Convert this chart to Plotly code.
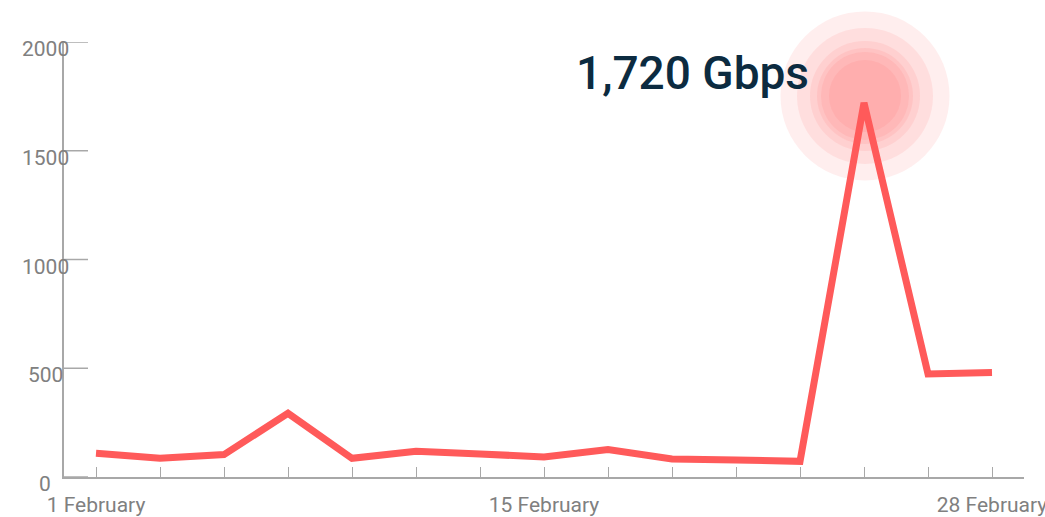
import plotly.graph_objects as go

# ---- data ----
days = ["1 Feb", "3 Feb", "5 Feb", "7 Feb", "9 Feb", "11 Feb", "13 Feb", "15 Feb",
        "17 Feb", "19 Feb", "21 Feb", "23 Feb", "25 Feb", "27 Feb", "28 Feb"]
gbps = [109, 86, 103, 293, 86, 118, 106, 92, 126, 83, 78, 72, 1720, 474, 481]
x_tick_labels = {0: "1 February", 7: "15 February", 14: "28 February"}
y_ticks = [0, 500, 1000, 1500, 2000]
y_max = 2000

LINE = "#ff5a5a"
GRAY_TXT = "#808080"
AXIS = "#a8a8a8"
NAVY = "#0c2b40"

xs = list(range(len(days)))
peak_i = max(xs, key=lambda i: gbps[i])
peak_v = gbps[peak_i]

fig = go.Figure()
fig.add_trace(go.Scatter(
    x=xs, y=gbps, mode="lines",
    line=dict(color=LINE, width=7),
    hoverinfo="skip", showlegend=False, cliponaxis=False,
))

# pulse circles around the peak (y in paper fraction so they are not clipped vertically)
for r in [84.5, 68, 55, 48, 44, 36]:
    fig.add_shape(
        type="circle", xref="x", yref="paper",
        xsizemode="pixel", ysizemode="pixel",
        xanchor=peak_i, yanchor=peak_v / y_max,
        x0=-r + 1, x1=r + 1, y0=-r + 7, y1=r + 7,
        fillcolor="rgba(255,90,90,0.10)", line=dict(width=0),
        layer="below",
    )

# y-axis tick marks (inside, pointing right)
for v in y_ticks:
    fig.add_shape(
        type="line", xref="paper", yref="y",
        xsizemode="pixel", xanchor=0, x0=0, x1=24, y0=v, y1=v,
        line=dict(color=AXIS, width=1.5), layer="above",
    )

# peak label
fig.add_annotation(
    x=peak_i, y=peak_v, xref="x", yref="y",
    text=f"{peak_v:,} Gbps", showarrow=False,
    xanchor="right", yanchor="middle", xshift=-53, yshift=30,
    font=dict(family="Roboto", size=46, color=NAVY, weight=500),
)

# y tick labels (centred, slightly below their ticks)
for v in y_ticks:
    fig.add_annotation(
        x=0, xref="paper", y=v, yref="y", text=str(v), showarrow=False,
        xanchor="center", yanchor="middle", xshift=-19, yshift=-7,
        font=dict(family="Roboto", size=21, color=GRAY_TXT),
    )

fig.update_xaxes(
    range=[-0.5, 14.5], tickmode="array", tickvals=xs,
    ticktext=[x_tick_labels.get(i, "") for i in xs],
    ticks="inside", ticklen=10, tickwidth=1, tickcolor=AXIS,
    showline=True, linecolor=AXIS, linewidth=1.5,
    showgrid=False, zeroline=False, automargin=False,
    ticklabeloverflow="allow",
    tickfont=dict(family="Roboto", size=21, color=GRAY_TXT),
    ticklabelstandoff=8,
)
fig.update_yaxes(
    range=[0, y_max], tickmode="array", tickvals=y_ticks,
    ticks="", showline=True, linecolor=AXIS, linewidth=1.5,
    showgrid=False, zeroline=False, showticklabels=False, automargin=False,
)
fig.update_layout(
    width=1045, height=517,
    margin=dict(l=64, r=21, t=42, b=40, autoexpand=False),
    plot_bgcolor="white", paper_bgcolor="white",
    showlegend=False,
)
fig.write_html(
    "out.html",
    config={"displayModeBar": False},
    post_script="document.body.style.margin='0';document.body.style.overflow='hidden';",
)
